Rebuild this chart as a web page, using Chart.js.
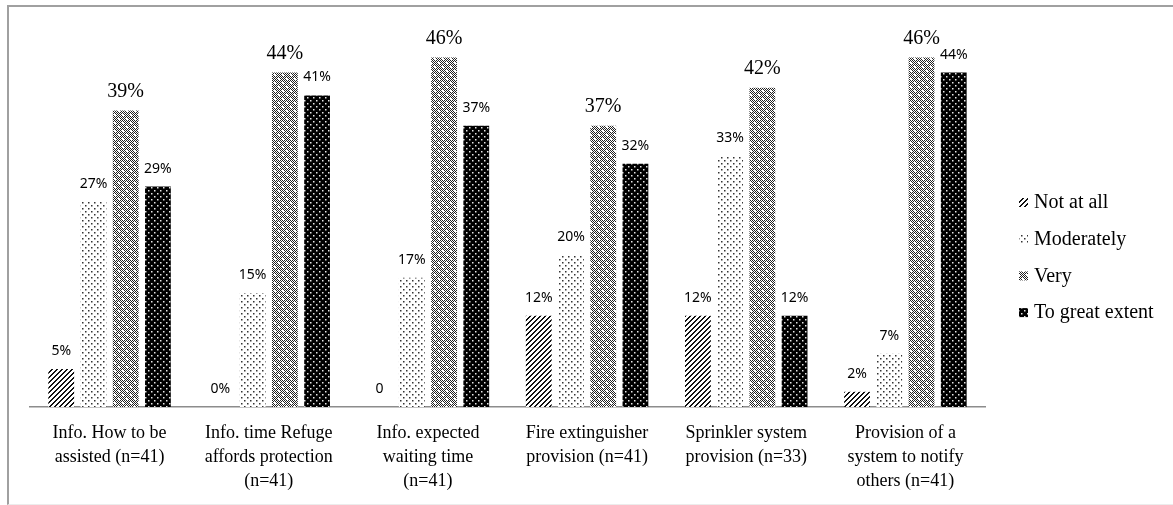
<!DOCTYPE html>
<html>
<head>
<meta charset="utf-8">
<script src="https://cdn.jsdelivr.net/npm/chart.js@4/dist/chart.umd.min.js"></script>
<style>
  html, body { margin: 0; padding: 0; background: #fff; }
  #wrap { position: relative; width: 1173px; height: 505px; }
  #frame {
    position: absolute; left: 7px; top: 5px; width: 1180px; height: 497px;
    border-left: 2px solid #a0a0a0; border-top: 2px solid #a0a0a0;
    border-bottom: 1px solid #ececec; pointer-events: none;
  }
</style>
</head>
<body>
<div id="wrap">
  <canvas id="chart" width="1173" height="505"></canvas>
  <div id="frame"></div>
</div>
<script>
const categories = [
  ["Info. How to be", "assisted (n=41)"],
  ["Info. time Refuge", "affords protection", "(n=41)"],
  ["Info. expected", "waiting time", "(n=41)"],
  ["Fire extinguisher", "provision (n=41)"],
  ["Sprinkler system", "provision (n=33)"],
  ["Provision of a", "system to notify", "others (n=41)"]
];
const seriesNames = ["Not at all", "Moderately", "Very", "To great extent"];
const notAtAll = [5, 0, 0, 12, 12, 2];
const moderately = [27, 15, 17, 20, 33, 7];
const very = [39, 44, 46, 37, 42, 46];
const greatExtent = [29, 41, 37, 32, 12, 44];
// the source shows a bare "0" for the third group
const notAtAllText = ["5%", "0%", "0", "12%", "12%", "2%"];

const serifFamily = "'Liberation Serif', 'Times New Roman', serif";

function makePattern(size, paint) {
  const c = document.createElement("canvas");
  c.width = size; c.height = size;
  const g = c.getContext("2d");
  paint(g, size);
  return document.getElementById("chart").getContext("2d").createPattern(c, "repeat");
}

const hatch = makePattern(5, function (g, n) {
  g.fillStyle = "#fff"; g.fillRect(0, 0, n, n);
  g.fillStyle = "#111";
  for (let x = 0; x < n; x++) for (let y = 0; y < n; y++) {
    if ((x + y) % n < 2) g.fillRect(x, y, 1, 1);
  }
});
const dots = makePattern(6, function (g, n) {
  g.fillStyle = "#fff"; g.fillRect(0, 0, n, n);
  g.fillStyle = "#333";
  g.fillRect(1, 1, 1.5, 1.5); g.fillRect(4, 4, 1.5, 1.5);
});
const checker = makePattern(8, function (g, n) {
  g.fillStyle = "#fff"; g.fillRect(0, 0, n, n);
  g.fillStyle = "#222";
  for (let x = 0; x < n; x++) for (let y = 0; y < n; y++) {
    if ((x + y) % 2 === 0) g.fillRect(x, y, 1, 1);
  }
  g.fillStyle = "#fff";
  g.fillRect(2, 2, 2, 2); g.fillRect(6, 6, 2, 2);
});
const darkDots = makePattern(6, function (g, n) {
  g.fillStyle = "#000"; g.fillRect(0, 0, n, n);
  g.fillStyle = "#e8e8e8";
  g.fillRect(1, 1, 1.5, 1.5); g.fillRect(4, 4, 1.5, 1.5);
});

const fills = [hatch, dots, checker, darkDots];
const sansFont = "14px 'Noto Sans'";
const serifFont = "20px " + serifFamily;

const valueLabels = {
  id: "valueLabels",
  afterDatasetsDraw(chart) {
    const ctx = chart.ctx;
    ctx.save();
    ctx.fillStyle = "#000";
    ctx.textAlign = "center";
    ctx.textBaseline = "middle";
    chart.data.datasets.forEach(function (ds, i) {
      const meta = chart.getDatasetMeta(i);
      meta.data.forEach(function (bar, j) {
        let text = i === 0 ? notAtAllText[j] : ds.data[j] + "%";
        if (i === 2) {
          ctx.font = serifFont;
          ctx.fillText(text, bar.x, bar.y - 19);
        } else {
          ctx.font = sansFont;
          ctx.fillText(text, bar.x, bar.y - 18);
        }
      });
    });
    ctx.restore();
  }
};

const sideLegend = {
  id: "sideLegend",
  afterDraw(chart) {
    const ctx = chart.ctx;
    ctx.save();
    ctx.font = "20px " + serifFamily;
    ctx.textBaseline = "middle";
    ctx.textAlign = "left";
    seriesNames.forEach(function (name, i) {
      const y = 203 + i * 36.7;
      ctx.fillStyle = fills[i];
      ctx.fillRect(1019, y - 5, 9, 9);
      ctx.fillStyle = "#000";
      ctx.fillText(name, 1034, y);
    });
    ctx.restore();
  }
};

const seriesData = [notAtAll, moderately, very, greatExtent];

new Chart(document.getElementById("chart"), {
  type: "bar",
  data: {
    labels: categories,
    datasets: seriesData.map(function (d, i) {
      return {
        label: seriesNames[i],
        data: d,
        backgroundColor: fills[i],
        borderWidth: 0,
        categoryPercentage: 0.81,
        barPercentage: 0.8
      };
    })
  },
  options: {
    responsive: false,
    animation: false,
    layout: { padding: { left: 30, right: 188, top: 27, bottom: 12 } },
    plugins: {
      legend: { display: false },
      tooltip: { enabled: false }
    },
    scales: {
      x: {
        afterFit(scale) { scale.height = 86; },
        grid: { display: false, drawTicks: false },
        border: { display: true, color: "#8c8c8c", width: 1.5 },
        ticks: {
          color: "#000",
          padding: 14,
          maxRotation: 0,
          autoSkip: false,
          font: { family: serifFamily, size: 18, lineHeight: 1.333 }
        }
      },
      y: {
        display: false,
        min: 0,
        max: 50
      }
    }
  },
  plugins: [valueLabels, sideLegend]
});
</script>
</body>
</html>
